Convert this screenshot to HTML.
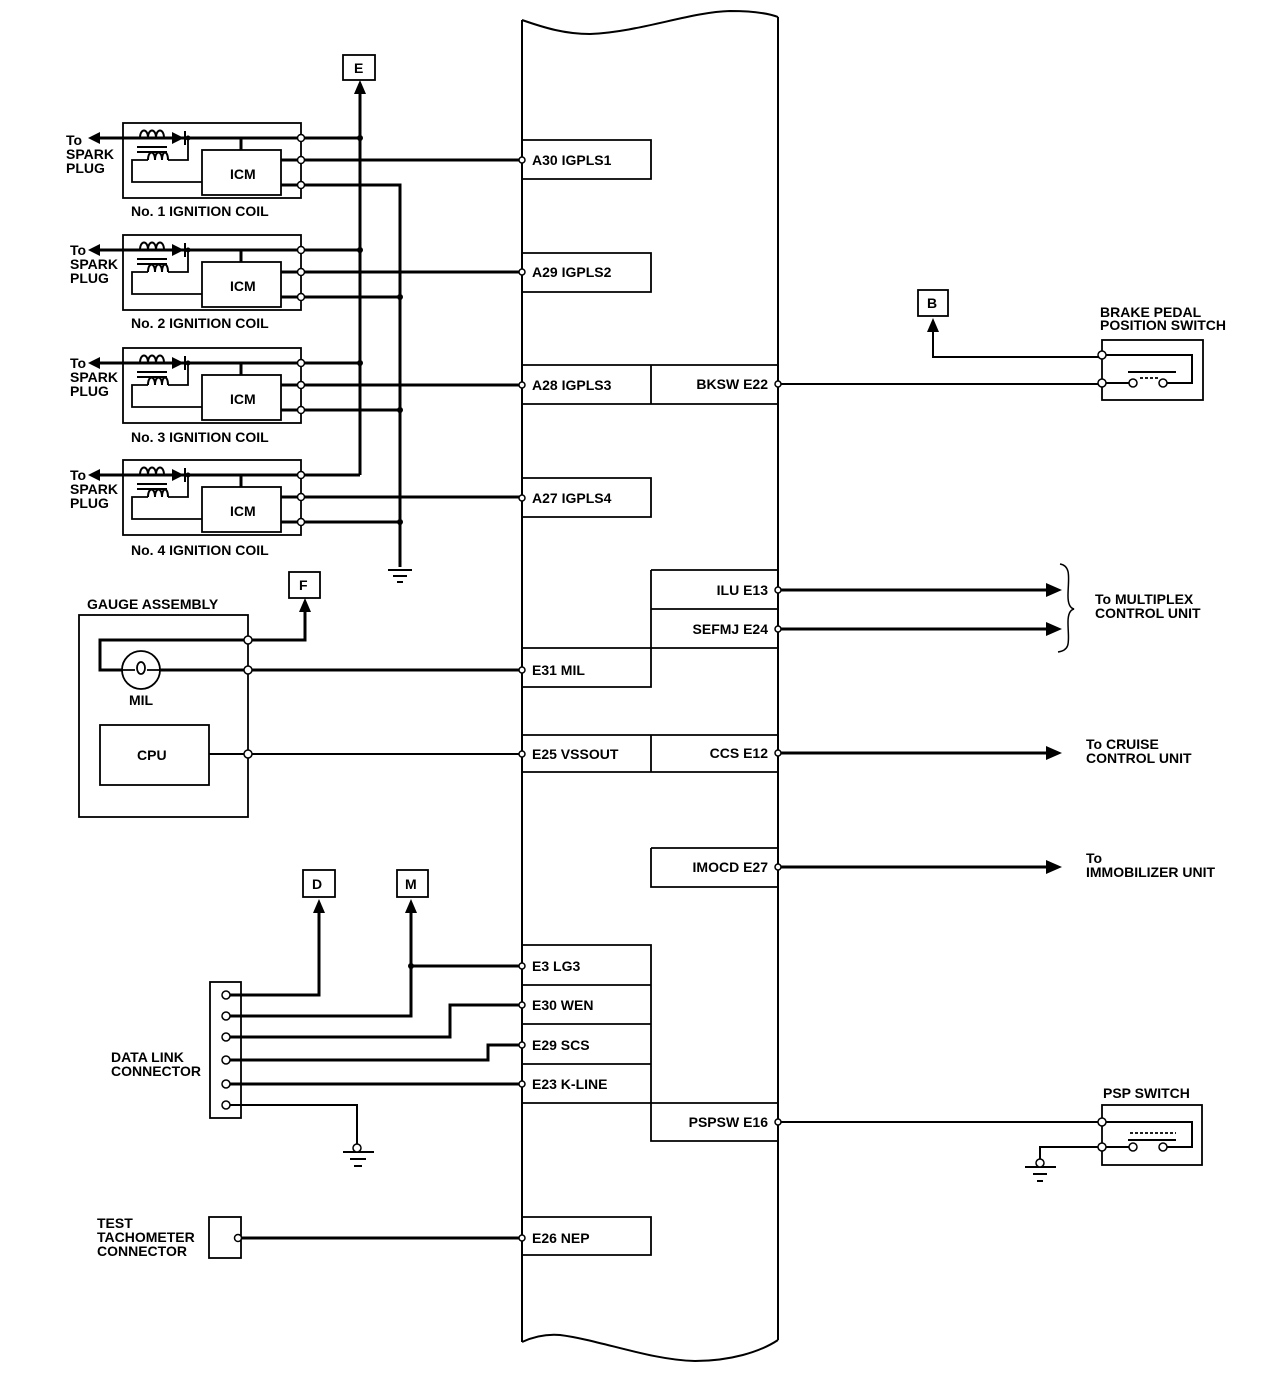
<!DOCTYPE html>
<html><head><meta charset="utf-8"><style>
html,body{margin:0;padding:0;background:#fff;}
svg{display:block;}
text{font-family:"Liberation Sans",sans-serif;font-weight:bold;font-size:14px;fill:#000;}
</style></head><body>
<svg width="1280" height="1400" viewBox="0 0 1280 1400" xmlns="http://www.w3.org/2000/svg">
<g fill="none" stroke="#000" stroke-width="1.8">
<path d="M522 20 C545 28 565 34 590 34 C640 32 690 12 730 11 C755 11 770 14 778 17" stroke-width="2"/>
<path d="M522 20 V1342 M778 17 V1340" stroke-width="2"/>
<path d="M522 1342 C535 1336 548 1334 560 1335 C600 1340 650 1360 695 1361 C730 1361 760 1352 778 1340" stroke-width="2"/>
<path d="M522 140 H651 V179 H522"/>
<path d="M522 253 H651 V292 H522"/>
<path d="M522 365 H778 M651 365 V404 M522 404 H778"/>
<path d="M522 478 H651 V517 H522"/>
<path d="M651 570 H778 M651 609 H778 M522 648 H778 M651 570 V687 H522"/>
<path d="M522 735 H778 M651 735 V772 M522 772 H778"/>
<path d="M651 848 H778 M651 848 V887 H778"/>
<path d="M522 945 H651 V1141 H778 M522 985 H651 M522 1024 H651 M522 1064 H651 M522 1103 H778"/>
<path d="M522 1217 H651 V1255 H522"/>
</g>

<g fill="none" stroke="#000" stroke-width="1.8">
<g>
<rect x="123" y="123" width="178" height="75"/>
<path d="M95 138 H301" stroke-width="3"/>
<rect x="202" y="150" width="79" height="45"/>
<path d="M241 138 V150" stroke-width="3"/>
<path d="M188 138 V160 H168 M148 160 H132 V182 H202"/>
<path d="M137 147 H167 M137 152 H167" stroke-width="2"/>
<path d="M281 160 H522 M281 185 H301" stroke-width="3"/>
<path d="M301 185 H400 V567" stroke-width="3"/>
<path d="M301 138 H360" stroke-width="3"/>
</g>
<g transform="translate(0,112)">
<rect x="123" y="123" width="178" height="75"/>
<path d="M95 138 H301" stroke-width="3"/>
<rect x="202" y="150" width="79" height="45"/>
<path d="M241 138 V150" stroke-width="3"/>
<path d="M188 138 V160 H168 M148 160 H132 V182 H202"/>
<path d="M137 147 H167 M137 152 H167" stroke-width="2"/>
<path d="M281 160 H522 M281 185 H400" stroke-width="3"/>
<path d="M301 138 H360" stroke-width="3"/>
</g>
<g transform="translate(0,225)">
<rect x="123" y="123" width="178" height="75"/>
<path d="M95 138 H301" stroke-width="3"/>
<rect x="202" y="150" width="79" height="45"/>
<path d="M241 138 V150" stroke-width="3"/>
<path d="M188 138 V160 H168 M148 160 H132 V182 H202"/>
<path d="M137 147 H167 M137 152 H167" stroke-width="2"/>
<path d="M281 160 H522 M281 185 H400" stroke-width="3"/>
<path d="M301 138 H360" stroke-width="3"/>
</g>
<g transform="translate(0,337)">
<rect x="123" y="123" width="178" height="75"/>
<path d="M95 138 H301" stroke-width="3"/>
<rect x="202" y="150" width="79" height="45"/>
<path d="M241 138 V150" stroke-width="3"/>
<path d="M188 138 V160 H168 M148 160 H132 V182 H202"/>
<path d="M137 147 H167 M137 152 H167" stroke-width="2"/>
<path d="M281 160 H522 M281 185 H400" stroke-width="3"/>
<path d="M301 138 H360" stroke-width="3"/>
</g>
<path d="M360 90 V475" stroke-width="3"/>
<rect x="343" y="55" width="32" height="25"/>
<path d="M388 570 H412 M393 576 H407 M397 582 H403" stroke-width="2"/>
</g>
<g>
<g>
<path d="M88 138 L100 132 L100 144 Z"/>
<path d="M140 138 c0 -10 8 -10 8 0 c0 -10 8 -10 8 0 c0 -10 8 -10 8 0 M148 160 c0 -10 7 -10 7 0 c0 -10 7 -10 7 0 c0 -10 6 -10 6 0" fill="none" stroke="#000" stroke-width="2"/>
<path d="M172 132 L184 138 L172 144 Z"/><path d="M185 131 V145" stroke="#000" stroke-width="2"/>
<circle cx="188" cy="138" r="2.5"/>
<circle cx="301" cy="138" r="3.5" fill="#fff" stroke="#000" stroke-width="1.5"/>
<circle cx="301" cy="160" r="3.5" fill="#fff" stroke="#000" stroke-width="1.5"/>
<circle cx="301" cy="185" r="3.5" fill="#fff" stroke="#000" stroke-width="1.5"/>
<circle cx="360" cy="138" r="3"/>
<text x="230" y="179">ICM</text>
<text x="66" y="145">To</text><text x="66" y="159">SPARK</text><text x="66" y="173">PLUG</text>
</g>
<g transform="translate(0,112)"><path d="M88 138 L100 132 L100 144 Z"/>
<path d="M140 138 c0 -10 8 -10 8 0 c0 -10 8 -10 8 0 c0 -10 8 -10 8 0 M148 160 c0 -10 7 -10 7 0 c0 -10 7 -10 7 0 c0 -10 6 -10 6 0" fill="none" stroke="#000" stroke-width="2"/>
<path d="M172 132 L184 138 L172 144 Z"/><path d="M185 131 V145" stroke="#000" stroke-width="2"/>
<circle cx="188" cy="138" r="2.5"/>
<circle cx="301" cy="138" r="3.5" fill="#fff" stroke="#000" stroke-width="1.5"/>
<circle cx="301" cy="160" r="3.5" fill="#fff" stroke="#000" stroke-width="1.5"/>
<circle cx="301" cy="185" r="3.5" fill="#fff" stroke="#000" stroke-width="1.5"/>
<circle cx="360" cy="138" r="3"/><circle cx="400" cy="185" r="3"/>
<text x="230" y="179">ICM</text>
<text x="70" y="143">To</text><text x="70" y="157">SPARK</text><text x="70" y="171">PLUG</text></g>
<g transform="translate(0,225)"><path d="M88 138 L100 132 L100 144 Z"/>
<path d="M140 138 c0 -10 8 -10 8 0 c0 -10 8 -10 8 0 c0 -10 8 -10 8 0 M148 160 c0 -10 7 -10 7 0 c0 -10 7 -10 7 0 c0 -10 6 -10 6 0" fill="none" stroke="#000" stroke-width="2"/>
<path d="M172 132 L184 138 L172 144 Z"/><path d="M185 131 V145" stroke="#000" stroke-width="2"/>
<circle cx="188" cy="138" r="2.5"/>
<circle cx="301" cy="138" r="3.5" fill="#fff" stroke="#000" stroke-width="1.5"/>
<circle cx="301" cy="160" r="3.5" fill="#fff" stroke="#000" stroke-width="1.5"/>
<circle cx="301" cy="185" r="3.5" fill="#fff" stroke="#000" stroke-width="1.5"/>
<circle cx="360" cy="138" r="3"/><circle cx="400" cy="185" r="3"/>
<text x="230" y="179">ICM</text>
<text x="70" y="143">To</text><text x="70" y="157">SPARK</text><text x="70" y="171">PLUG</text></g>
<g transform="translate(0,337)"><path d="M88 138 L100 132 L100 144 Z"/>
<path d="M140 138 c0 -10 8 -10 8 0 c0 -10 8 -10 8 0 c0 -10 8 -10 8 0 M148 160 c0 -10 7 -10 7 0 c0 -10 7 -10 7 0 c0 -10 6 -10 6 0" fill="none" stroke="#000" stroke-width="2"/>
<path d="M172 132 L184 138 L172 144 Z"/><path d="M185 131 V145" stroke="#000" stroke-width="2"/>
<circle cx="188" cy="138" r="2.5"/>
<circle cx="301" cy="138" r="3.5" fill="#fff" stroke="#000" stroke-width="1.5"/>
<circle cx="301" cy="160" r="3.5" fill="#fff" stroke="#000" stroke-width="1.5"/>
<circle cx="301" cy="185" r="3.5" fill="#fff" stroke="#000" stroke-width="1.5"/>
<circle cx="400" cy="185" r="3"/>
<text x="230" y="179">ICM</text>
<text x="70" y="143">To</text><text x="70" y="157">SPARK</text><text x="70" y="171">PLUG</text></g>
<text x="131" y="216">No. 1 IGNITION COIL</text>
<text x="131" y="328">No. 2 IGNITION COIL</text>
<text x="131" y="442">No. 3 IGNITION COIL</text>
<text x="131" y="555">No. 4 IGNITION COIL</text>
<path d="M360 80 L354 94 L366 94 Z"/>
<text x="354" y="73">E</text>
</g>

<g fill="none" stroke="#000" stroke-width="1.8">
<rect x="79" y="615" width="169" height="202"/>
<path d="M248 640 H305 V605" stroke-width="3"/>
<path d="M248 640 H100 V670 H122" stroke-width="3"/>
<path d="M160 670 H522" stroke-width="3"/>
<circle cx="141" cy="670" r="19"/>
<path d="M122 670 H135 M147 670 H160"/>
<ellipse cx="141" cy="668" rx="4" ry="6"/>
<rect x="100" y="725" width="109" height="60"/>
<path d="M209 754 H522" stroke-width="2"/>
<rect x="289" y="572" width="31" height="26"/>
<rect x="210" y="982" width="31" height="136"/>
<path d="M226 995 H319 V905" stroke-width="3"/>
<path d="M226 1016 H411 V905" stroke-width="3"/>
<path d="M411 966 H522" stroke-width="3"/>
<path d="M226 1037 H450 V1005 H522" stroke-width="3"/>
<path d="M226 1060 H488 V1045 H522" stroke-width="3"/>
<path d="M226 1084 H522" stroke-width="3"/>
<path d="M226 1105 H357 V1145" stroke-width="2"/>
<path d="M343 1152 H374 M350 1159 H366 M354 1166 H362" stroke-width="2"/>
<rect x="303" y="870" width="32" height="27"/>
<rect x="397" y="870" width="31" height="27"/>
<rect x="209" y="1217" width="32" height="41"/>
<path d="M238 1238 H522" stroke-width="3"/>
<path d="M778 384 H1102" stroke-width="2"/>
<rect x="918" y="290" width="30" height="26"/>
<path d="M933 322 V357 H1102" stroke-width="2"/>
<rect x="1102" y="340" width="101" height="60"/>
<path d="M1102 355 H1192 V383 H1163 M1102 383 H1133" stroke-width="2"/>
<path d="M1128 372 H1176" stroke-width="2"/>
<path d="M1140 378 H1160" stroke-dasharray="3 2"/>
<path d="M778 590 H1050 M778 629 H1050 M778 753 H1050 M778 867 H1050" stroke-width="3"/>
<path d="M1060 564 C1072 566 1068 580 1068 596 C1068 604 1070 608 1074 609 C1070 610 1068 614 1068 622 C1068 640 1072 650 1058 652" stroke-width="1.5"/>
<path d="M778 1122 H1102" stroke-width="2"/>
<rect x="1102" y="1105" width="100" height="60"/>
<path d="M1102 1122 H1192 V1147 H1163 M1102 1147 H1133" stroke-width="2"/>
<path d="M1128 1140 H1176" stroke-width="2"/>
<path d="M1130 1133 H1176" stroke-dasharray="3 2"/>
<path d="M1102 1147 H1040 V1160" stroke-width="2"/>
<path d="M1025 1167 H1056 M1033 1174 H1047 M1037 1181 H1043" stroke-width="2"/>
</g>
<g>
<path d="M305 598 L299 612 L311 612 Z"/>
<path d="M319 899 L313 913 L325 913 Z"/>
<path d="M411 899 L405 913 L417 913 Z"/>
<path d="M933 318 L927 332 L939 332 Z"/>
<path d="M1062 590 L1046 583 L1046 597 Z"/>
<path d="M1062 629 L1046 622 L1046 636 Z"/>
<path d="M1062 753 L1046 746 L1046 760 Z"/>
<path d="M1062 867 L1046 860 L1046 874 Z"/>
<circle cx="411" cy="966" r="3"/>
<g fill="#fff" stroke="#000" stroke-width="1.5">
<circle cx="248" cy="640" r="4"/><circle cx="248" cy="670" r="4"/><circle cx="248" cy="754" r="4"/>
<circle cx="226" cy="995" r="4"/><circle cx="226" cy="1016" r="4"/><circle cx="226" cy="1037" r="4"/><circle cx="226" cy="1060" r="4"/><circle cx="226" cy="1084" r="4"/><circle cx="226" cy="1105" r="4"/>
<circle cx="238" cy="1238" r="3.5"/>
<circle cx="357" cy="1148" r="4"/><circle cx="1040" cy="1163" r="4"/>
<circle cx="1102" cy="355" r="4"/><circle cx="1102" cy="383" r="4"/><circle cx="1133" cy="383" r="4"/><circle cx="1163" cy="383" r="4"/>
<circle cx="1102" cy="1122" r="4"/><circle cx="1102" cy="1147" r="4"/><circle cx="1133" cy="1147" r="4"/><circle cx="1163" cy="1147" r="4"/>
<circle cx="522" cy="160" r="3"/><circle cx="522" cy="272" r="3"/><circle cx="522" cy="385" r="3"/><circle cx="522" cy="498" r="3"/>
<circle cx="522" cy="670" r="3"/><circle cx="522" cy="754" r="3"/><circle cx="522" cy="966" r="3"/><circle cx="522" cy="1005" r="3"/><circle cx="522" cy="1045" r="3"/><circle cx="522" cy="1084" r="3"/><circle cx="522" cy="1238" r="3"/>
<circle cx="778" cy="384" r="3"/><circle cx="778" cy="590" r="3"/><circle cx="778" cy="629" r="3"/><circle cx="778" cy="753" r="3"/><circle cx="778" cy="867" r="3"/><circle cx="778" cy="1122" r="3"/>
</g>
<text x="299" y="590">F</text>
<text x="312" y="889">D</text>
<text x="405" y="889">M</text>
<text x="927" y="308">B</text>
<text x="87" y="609">GAUGE ASSEMBLY</text>
<text x="129" y="705">MIL</text>
<text x="137" y="760">CPU</text>
<text x="111" y="1062">DATA LINK</text>
<text x="111" y="1076">CONNECTOR</text>
<text x="97" y="1228">TEST</text>
<text x="97" y="1242">TACHOMETER</text>
<text x="97" y="1256">CONNECTOR</text>
<text x="532" y="165">A30 IGPLS1</text>
<text x="532" y="277">A29 IGPLS2</text>
<text x="532" y="390">A28 IGPLS3</text>
<text x="532" y="503">A27 IGPLS4</text>
<text x="532" y="675">E31 MIL</text>
<text x="532" y="759">E25 VSSOUT</text>
<text x="532" y="971">E3 LG3</text>
<text x="532" y="1010">E30 WEN</text>
<text x="532" y="1050">E29 SCS</text>
<text x="532" y="1089">E23 K-LINE</text>
<text x="532" y="1243">E26 NEP</text>
<text x="768" y="389" text-anchor="end">BKSW E22</text>
<text x="768" y="595" text-anchor="end">ILU E13</text>
<text x="768" y="634" text-anchor="end">SEFMJ E24</text>
<text x="768" y="758" text-anchor="end">CCS E12</text>
<text x="768" y="872" text-anchor="end">IMOCD E27</text>
<text x="768" y="1127" text-anchor="end">PSPSW E16</text>
<text x="1100" y="317">BRAKE PEDAL</text>
<text x="1100" y="330">POSITION SWITCH</text>
<text x="1095" y="604">To MULTIPLEX</text>
<text x="1095" y="618">CONTROL UNIT</text>
<text x="1086" y="749">To CRUISE</text>
<text x="1086" y="763">CONTROL UNIT</text>
<text x="1086" y="863">To</text>
<text x="1086" y="877">IMMOBILIZER UNIT</text>
<text x="1103" y="1098">PSP SWITCH</text>
</g>
</svg>
</body></html>
